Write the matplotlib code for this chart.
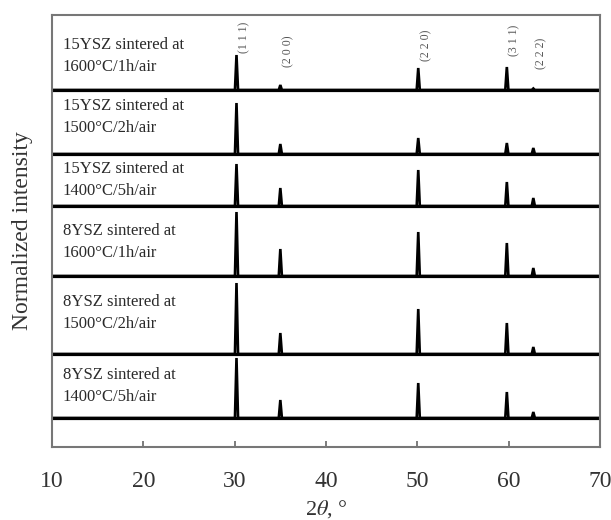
import numpy as np
import matplotlib
matplotlib.use("Agg")
import matplotlib.pyplot as plt

plt.rcParams['font.family'] = ['Liberation Serif', 'DejaVu Serif']
plt.rcParams['mathtext.fontset'] = 'stix'

# peak positions (2theta, deg) and Miller indices
peak_pos = [30.2, 35.0, 50.1, 59.8, 62.7]
peak_hkl = ["(1 1 1)", "(2 0 0)", "(2 2 0)", "(3 1 1)", "(2 2 2)"]

# samples, top to bottom
samples = ["15YSZ sintered at\n1600°C/1h/air",
           "15YSZ sintered at\n1500°C/2h/air",
           "15YSZ sintered at\n1400°C/5h/air",
           "8YSZ sintered at\n1600°C/1h/air",
           "8YSZ sintered at\n1500°C/2h/air",
           "8YSZ sintered at\n1400°C/5h/air"]
# vertical offset of each pattern's baseline
offsets = [357, 293, 241, 171, 93, 29]
# peak heights, same units as offsets
heights = [[35, 5, 22, 23, 1.5],
           [51, 10, 16, 11, 6],
           [42, 18, 36, 24, 8],
           [64, 27, 44, 33, 8],
           [71, 21, 45, 31, 7],
           [60, 18, 35, 26, 6]]
text_y = [391, 330, 267, 205, 134, 61]
label_y = [410, 396, 402, 407, 394]
xticks = [10, 20, 30, 40, 50, 60, 70]

fig = plt.figure(figsize=(6.11, 5.2), dpi=100)
ax = fig.add_axes([52/611, 1-447/520, 548/611, 432/520])

hw = 0.17
for off, hs, txt, ty in zip(offsets, heights, samples, text_y):
    xs = [10]
    ys = [0]
    for p, h in zip(peak_pos, hs):
        xs += [p - hw, p, p + hw]
        ys += [0, h, 0]
    xs.append(70)
    ys.append(0)
    ax.plot(xs, np.array(ys) + off, color='black', lw=1.9, solid_joinstyle='miter')
    ax.axhline(off, color='black', lw=2.3)
    ax.text(11.2, ty, txt, fontsize=12, color='#2a2a2a', va='center', ha='left',
            linespacing=1.45)

for p, lab, ly in zip(peak_pos, peak_hkl, label_y):
    ax.text(p + 0.85, ly, lab, fontsize=8.5, color='#555555', rotation=90,
            ha='center', va='center')

ax.set_xlim(10, 70)
ax.set_ylim(0, 432)
ax.set_yticks([])
ax.set_xticks(xticks)
ax.set_xticklabels([str(t) for t in xticks])
ax.tick_params(axis='x', direction='in', length=4, width=1.2,
               color='#666666', labelsize=17, labelcolor='#333333', pad=17)
for s in ax.spines.values():
    s.set_color('#777777')
    s.set_linewidth(1.5)

ax.set_xlabel(r'2$\mathit{\theta}$, °', fontsize=16, color='#333333', labelpad=5)
ax.set_ylabel('Normalized intensity', fontsize=17, color='#333333', labelpad=14)

fig.savefig('out.png', dpi=100)
